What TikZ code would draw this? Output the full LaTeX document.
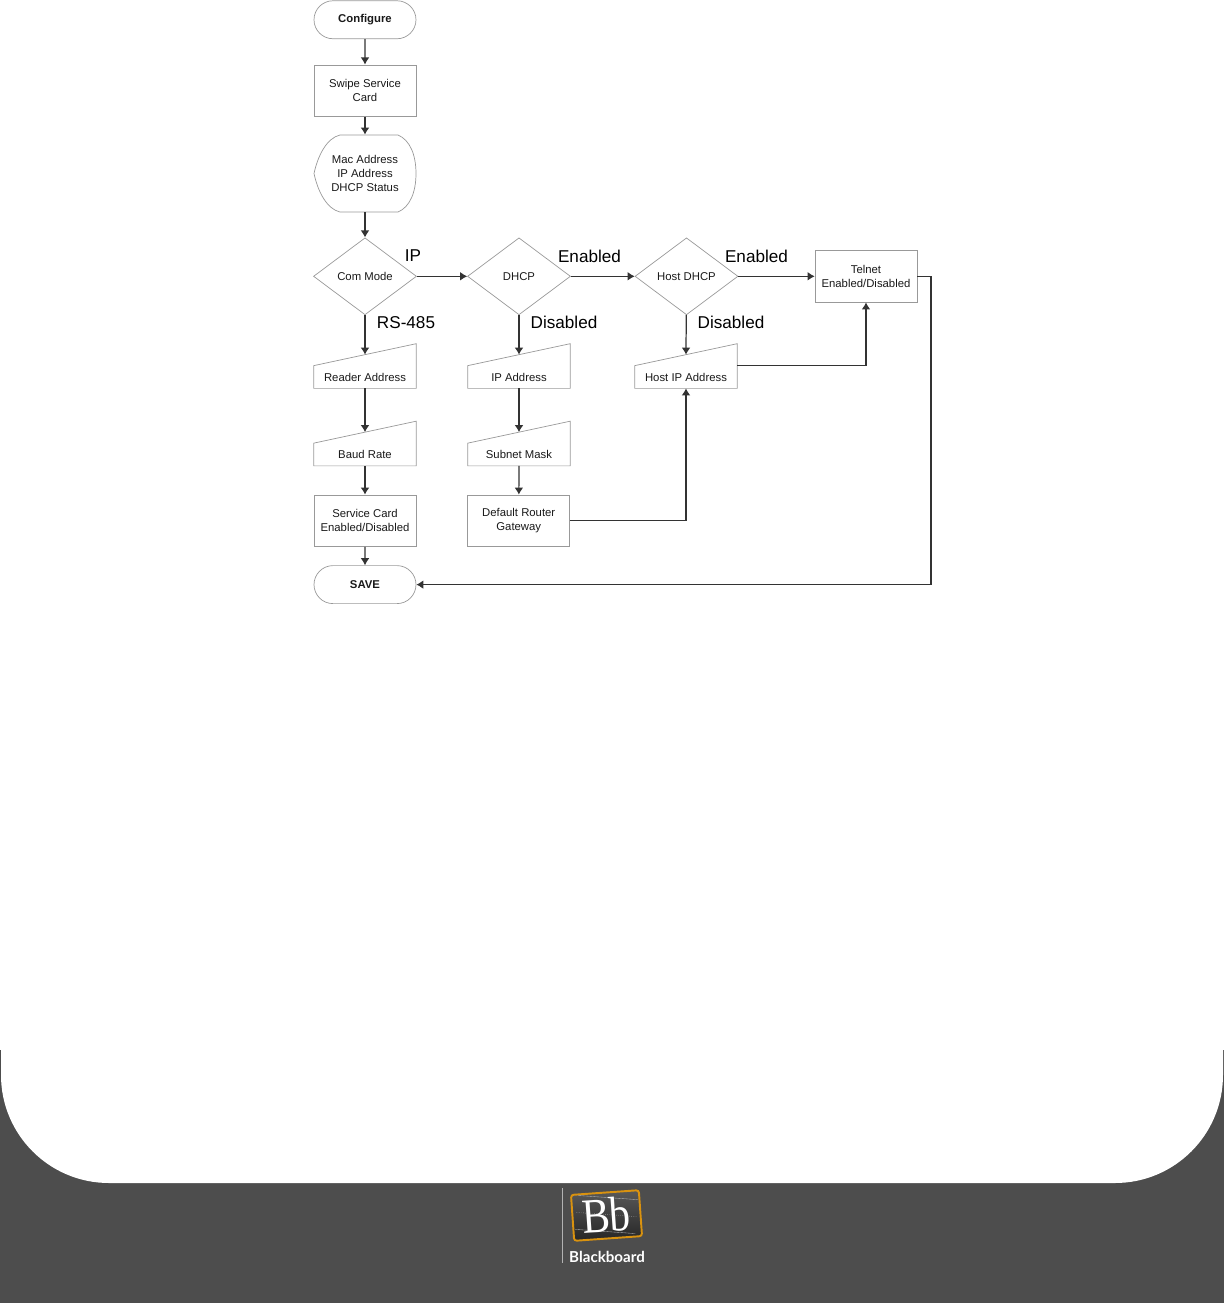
\documentclass[tikz,border=0pt]{standalone}
\usepackage{fontspec}
\setmainfont{Liberation Sans}
\newfontfamily\logoserif{Liberation Serif}
\newfontfamily\logosans{Lato}
\usetikzlibrary{arrows.meta,positioning,shapes.geometric,shapes.misc,calc}
\definecolor{footgray}{HTML}{4D4D4D}
\definecolor{shapegray}{HTML}{999999}
\definecolor{logogold}{HTML}{D9920F}
\tikzset{
	boxtext/.style={font=\fontsize{6.45}{7.9}\selectfont, align=center, text=black!90, inner sep=0pt},
	procbox/.style={boxtext, draw=shapegray, line width=0.4pt, minimum width=2.04cm, minimum height=1.03cm},
	termbox/.style={boxtext, rounded rectangle, draw=shapegray, line width=0.4pt, minimum width=2.04cm, minimum height=0.76cm, font=\fontsize{6.45}{7.9}\selectfont\bfseries},
	decision/.style={boxtext, diamond, draw=shapegray, line width=0.4pt, minimum width=2.06cm, minimum height=1.54cm},
	inputbox/.style={boxtext, minimum width=2.04cm, minimum height=0.44cm},
	outline/.style={draw=shapegray, line width=0.4pt},
	link/.style={-{Latex[length=4pt,width=5pt]}, line width=0.7pt, black!80},
	branch/.style={font=\fontsize{9.75}{11}\selectfont, text=black, inner sep=0pt}
}
\begin{document}
\begin{tikzpicture}[x=0.02cm,y=-0.02cm]
	\useasboundingbox (0,0) rectangle (1224,1303);
	% footer band
	\fill[footgray] (0,1050) rectangle (1224,1303);
	\fill[white, rounded corners=2.16cm] (1,900) rectangle (1223,1183);
	% first column
	\node[termbox] (configure) at (365,19.75) {\raisebox{-0.3pt}{Configure}};
	\node[procbox] (swipe) at (365,90.6) {Swipe Service\\Card};
	\node[boxtext, minimum width=2.04cm, minimum height=1.54cm] (status) at (365,173.5) {Mac Address\\IP Address\\DHCP Status};
	\draw[outline] (340,135) -- (398,135) .. controls (410,140) and (416,155) .. (416,173.5)
		.. controls (416,192) and (410,207) .. (398,212) -- (340,212)
		.. controls (327,209) and (318,192) .. (314,173.5) .. controls (318,155) and (327,138) .. (340,135);
	\node[decision] (commode) at (365,276.3) {Com Mode};
	\node[inputbox] (reader) at (365,377) {Reader Address};
	\node[inputbox] (baud) at (365,454.5) {Baud Rate};
	\node[procbox] (service) at (365,520.75) {Service Card\\Enabled/Disabled};
	\node[termbox] (save) at (365,584.6) {SAVE};
	% second column
	\node[decision] (dhcp) at (519,276.3) {DHCP};
	\node[inputbox] (ipaddr) at (519,377) {IP Address};
	\node[inputbox] (subnet) at (519,454.5) {Subnet Mask};
	\node[procbox] (router) at (518.75,520.75) {Default Router\\Gateway};
	% third column
	\node[decision] (hostdhcp) at (686.5,276.3) {Host DHCP};
	\node[inputbox] (hostip) at (686,377) {Host IP Address};
	\node[procbox] (telnet) at (866,276.3) {Telnet\\Enabled/Disabled};
	\foreach \n in {reader,baud,ipaddr,subnet,hostip} {
		\draw[outline] (\n.north west) -- ($(\n.north east)+(0,-22)$) -- (\n.south east) -- (\n.south west) -- cycle;
		\coordinate (\n-top) at ($(\n.north)+(0,-11)$);
	}
	\coordinate (bus) at (931,430);
	% connectors
	\draw[link] (configure) -- (swipe);
	\draw[link] (swipe) -- (status);
	\draw[link] (status) -- (commode);
	\draw[link] (commode) -- (reader-top);
	\draw[link] (reader) -- (baud-top);
	\draw[link] (baud) -- (service);
	\draw[link] (service) -- (save);
	\draw[link] (commode) -- (dhcp);
	\draw[link] (dhcp) -- (ipaddr-top);
	\draw[link] (ipaddr) -- (subnet-top);
	\draw[link] (subnet) -- (router);
	\draw[link] (dhcp) -- (hostdhcp);
	\draw[link] (hostdhcp) -- (hostip-top);
	\draw[link] (hostdhcp) -- (telnet);
	\draw[link] (router.east) -| (hostip.south);
	\draw[link] (hostip.north east) -| (telnet.south);
	\draw[link] (telnet.east) -| (bus) |- (save.east);
	% branch labels
	\node[branch] (lblip) at (413,256) {IP};
	\node[branch] (lblrs) at (406,322.5) {RS-485};
	\node[branch] (lblen1) at (589.5,256) {Enabled};
	\node[branch] (lbldis1) at (564,322.5) {Disabled};
	\node[branch] (lblen2) at (756.5,256) {Enabled};
	\node[branch] (lbldis2) at (731,322.5) {Disabled};
	% logo
	\draw[black!30, line width=0.4pt] (562,1188) -- (562,1263);
	\node[rotate=4, rounded corners=1.5pt, draw=logogold, line width=1.1pt, top color=black!65, bottom color=black!85, minimum width=1.36cm, minimum height=0.92cm, inner sep=0pt] (board) at (606.5,1215.5) {};
	\begin{scope}[shift={(606.5,1215.5)}, rotate=-4]
		\draw[white!70!black, line width=0.2pt] (-30,-18) -- (30,-18);
		\draw[white!70!black, line width=0.2pt] (-30,16) -- (30,16);
		\draw[white!80!black, line width=0.25pt, densely dotted] (-30,-1) -- (30,-1);
	\end{scope}
	\node[rotate=4, xscale=0.85, text=white, inner sep=0pt, font=\fontsize{28}{28}\logoserif] (bb) at (606,1215) {B\kern-0.5pt b};
	\node[text=white, inner sep=0pt, font=\fontsize{8.6}{9}\logosans\bfseries] (bbname) at (607,1257) {Blackboard};
\end{tikzpicture}
\end{document}
